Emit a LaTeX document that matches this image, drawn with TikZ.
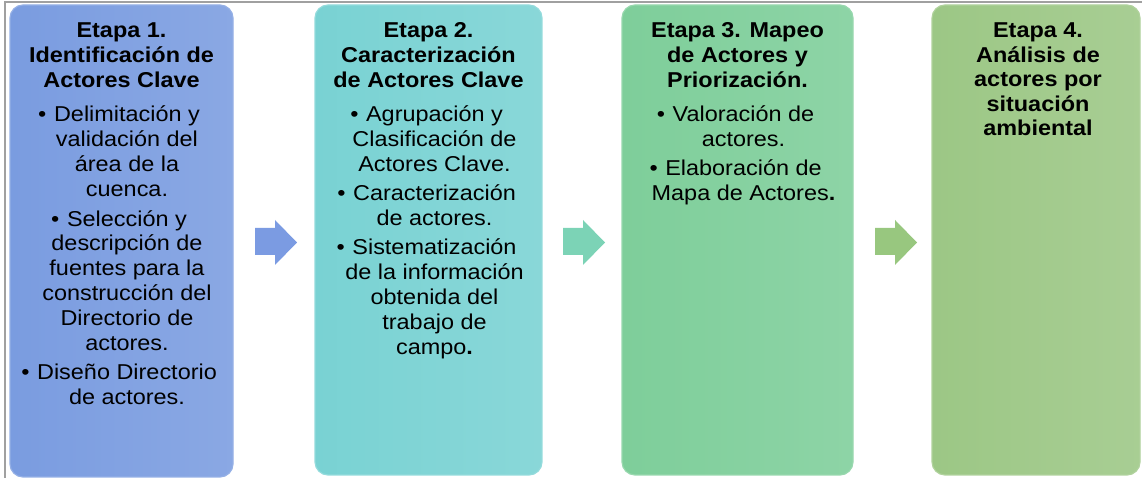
\documentclass[tikz,border=0pt]{standalone}
\usepackage{fontspec}
\setmainfont{Liberation Sans}
\definecolor{cA}{HTML}{7A9CE0}
\definecolor{cB}{HTML}{79D2D3}
\definecolor{cC}{HTML}{7ECE9A}
\definecolor{cD}{HTML}{9CC785}
\definecolor{aA}{HTML}{7B9BE2}
\definecolor{aB}{HTML}{7CD3B6}
\definecolor{aC}{HTML}{98C77F}
\definecolor{frameGray}{HTML}{A0A0A0}
\newcommand{\bul}{\llap{\textbullet\hspace{7pt}}}
\begin{document}
\begin{tikzpicture}[x=1pt,y=1pt,
  stagebox/.style={rounded corners=13pt, line width=1.2pt},
  titletext/.style={anchor=north, inner sep=0pt, align=center, xscale=1.09,
    font=\fontsize{21.5}{24.8}\selectfont\bfseries},
  bullettext/.style={anchor=north, inner sep=0pt, align=center, xscale=1.09,
    font=\fontsize{21.5}{24.8}\selectfont},
  blockarrow/.style={draw=none}]
\useasboundingbox (0,0) rectangle (1142,478);
% frame
\draw[frameGray, line width=1.2pt] (5,0) -- (5,476) -- (1142,476);
% boxes
\path[stagebox, left color=cA, right color=cA!88!white, draw=cA!80!white] (10,1) rectangle (233,473);
\path[stagebox, left color=cB, right color=cB!88!white, draw=cB!80!white] (315,3) rectangle (542,473);
\path[stagebox, left color=cC, right color=cC!88!white, draw=cC!80!white] (622,3) rectangle (853,473);
\path[stagebox, left color=cD, right color=cD!88!white, draw=cD!80!white] (932,3) rectangle (1140,473);
% arrows
\fill[aA] (255,250) -- (275,250) -- (275,258) -- (297,235.5) -- (275,213) -- (275,223) -- (255,223) -- cycle;
\fill[aB] (563,250) -- (583,250) -- (583,258) -- (605,235.5) -- (583,213) -- (583,223) -- (563,223) -- cycle;
\fill[aC] (875,250) -- (895,250) -- (895,258) -- (917,235.5) -- (895,213) -- (895,223) -- (875,223) -- cycle;
% texts
\node[titletext] (t1) at (121.5,460.3) {\rule{0pt}{20pt}Etapa 1.\\Identificación de\\Actores Clave};
\node[bullettext] (b1) at (127,376.3) {\rule{0pt}{20pt}\bul Delimitación y\\validación del\\área de la\\cuenca.\\[5pt]\bul Selección y\\descripción de\\fuentes para la\\construcción del\\Directorio de\\actores.\\[5pt]\bul Diseño Directorio\\de actores.};
\node[titletext] (t2) at (428.5,460.3) {\rule{0pt}{20pt}Etapa 2.\\Caracterización\\de Actores Clave};
\node[bullettext] (b2) at (434.5,376.3) {\rule{0pt}{20pt}\bul Agrupación y\\Clasificación de\\Actores Clave.\\[4pt]\bul Caracterización\\de actores.\\[5pt]\bul Sistematización\\de la información\\obtenida del\\trabajo de\\campo\textbf{.}};
\node[titletext] (t3) at (737.5,460.3) {\rule{0pt}{20pt}Etapa 3. Mapeo\\de Actores y\\Priorización.};
\node[bullettext] (b3) at (743.5,376.3) {\rule{0pt}{20pt}\bul Valoración de\\actores.\\[4pt]\bul Elaboración de\\Mapa de Actores\textbf{.}};
\node[titletext, font=\fontsize{21.5}{24.4}\selectfont\bfseries] (t4) at (1038,460.3) {\rule{0pt}{20pt}Etapa 4.\\Análisis de\\actores por\\situación\\ambiental};
\end{tikzpicture}
\end{document}
